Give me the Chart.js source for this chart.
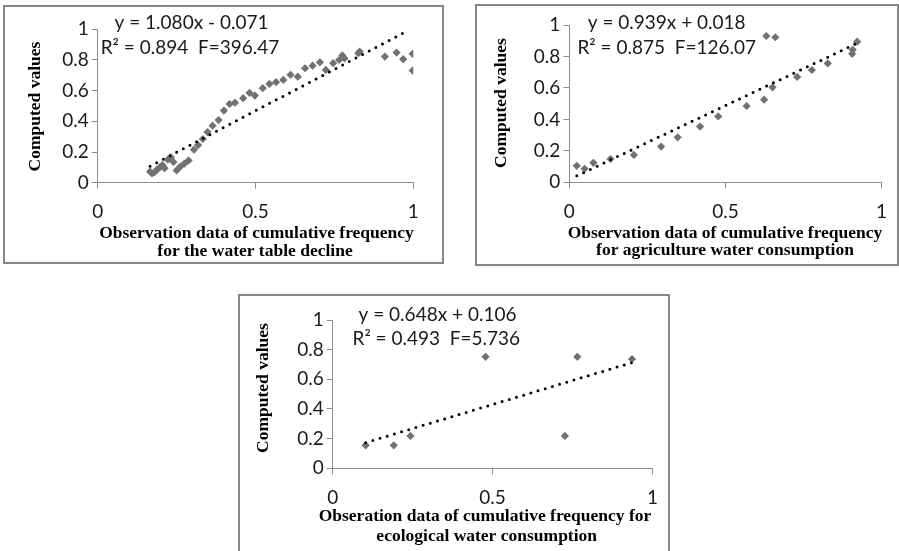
<!DOCTYPE html>
<html>
<head>
<meta charset="utf-8">
<script src="https://cdn.jsdelivr.net/npm/chart.js@4.4.1/dist/chart.umd.min.js"></script>
<style>
  html, body { margin: 0; padding: 0; background: #fff; overflow: hidden; }
  body { width: 899px; height: 551px; position: relative; }
  canvas { position: absolute; }
</style>
</head>
<body>
<canvas id="c1"></canvas>
<canvas id="c2"></canvas>
<canvas id="c3"></canvas>
<script>
// water table decline
const tableX = [0.166, 0.172, 0.180, 0.188, 0.197, 0.205, 0.212, 0.222, 0.232, 0.240,
  0.250, 0.262, 0.275, 0.288, 0.305, 0.318, 0.333, 0.348, 0.364, 0.383,
  0.400, 0.418, 0.435, 0.461, 0.481, 0.498, 0.523, 0.544, 0.565, 0.588,
  0.611, 0.634, 0.657, 0.681, 0.704, 0.723, 0.746, 0.765, 0.775, 0.782,
  0.826, 0.830, 0.910, 0.947, 0.968, 0.998, 0.998];
const tableY = [0.072, 0.060, 0.068, 0.085, 0.100, 0.115, 0.095, 0.150, 0.165, 0.135,
  0.080, 0.105, 0.125, 0.145, 0.215, 0.245, 0.285, 0.330, 0.372, 0.408,
  0.470, 0.513, 0.522, 0.551, 0.585, 0.568, 0.616, 0.644, 0.655, 0.670,
  0.703, 0.691, 0.746, 0.763, 0.785, 0.735, 0.779, 0.800, 0.830, 0.810,
  0.844, 0.855, 0.822, 0.848, 0.805, 0.840, 0.731];
const tableTrendX = [0.166, 0.984];
const tableTrendY = [0.108, 0.992];

// agriculture water consumption
const agriX = [0.024, 0.049, 0.077, 0.132, 0.207, 0.294, 0.347, 0.419, 0.477, 0.568,
  0.624, 0.631, 0.660, 0.651, 0.730, 0.777, 0.828, 0.906, 0.908, 0.922];
const agriY = [0.105, 0.086, 0.124, 0.148, 0.174, 0.227, 0.286, 0.354, 0.419, 0.485,
  0.525, 0.930, 0.922, 0.604, 0.670, 0.714, 0.756, 0.817, 0.842, 0.894];
const agriTrendX = [0.024, 0.922];
const agriTrendY = [0.041, 0.884];

// ecological water consumption
const ecoX = [0.103, 0.191, 0.243, 0.478, 0.726, 0.765, 0.936];
const ecoY = [0.155, 0.155, 0.218, 0.752, 0.218, 0.752, 0.737];
const ecoTrendX = [0.103, 0.936];
const ecoTrendY = [0.173, 0.713];

const xTicks = [0, 0.5, 1];
const yTicks = [0, 0.2, 0.4, 0.6, 0.8, 1];

const DIAMOND = '#717171';
const AXIS = '#8e8e8e';
const FRAME = '#868686';
const SANS = 'Lato';
const SERIF = '"Liberation Serif"';

function toPoints(xs, ys) {
  return xs.map((x, i) => ({ x: x, y: ys[i] }));
}

function labelPlugin(box, texts) {
  return {
    id: 'labels',
    afterDraw(chart) {
      const ctx = chart.ctx;
      ctx.save();
      ctx.strokeStyle = FRAME;
      ctx.lineWidth = 2;
      ctx.strokeRect(1, 1, box.w - 2, box.h - 2);

      ctx.fillStyle = '#1a1a1a';
      ctx.textAlign = 'center';
      ctx.textBaseline = 'middle';
      ctx.font = '19px ' + SANS;
      ctx.fillText(texts.eq, texts.eqAt[0] - box.left, texts.eqAt[1] - box.top);
      ctx.fillText(texts.r2, texts.r2At[0] - box.left, texts.r2At[1] - box.top);

      ctx.fillStyle = '#000';
      ctx.font = 'bold 17.5px ' + SERIF;
      texts.xTitle.forEach((line, i) => {
        ctx.fillText(line, texts.xTitleAt[i][0] - box.left, texts.xTitleAt[i][1] - box.top);
      });
      ctx.translate(texts.yTitleAt[0] - box.left, texts.yTitleAt[1] - box.top);
      ctx.rotate(-Math.PI / 2);
      ctx.fillText('Computed values', 0, 0);
      ctx.restore();
    }
  };
}

function makeChart(id, box, plot, xs, ys, trendX, trendY, texts) {
  const canvas = document.getElementById(id);
  canvas.width = box.w;
  canvas.height = box.h;
  canvas.style.left = box.left + 'px';
  canvas.style.top = box.top + 'px';

  const tickFont = { family: SANS, size: 19 };

  return new Chart(canvas, {
    type: 'scatter',
    data: {
      datasets: [{
        data: toPoints(trendX, trendY),
        showLine: true,
        borderColor: '#000',
        borderWidth: 3,
        borderDash: [0, 7.5],
        borderCapStyle: 'round',
        pointRadius: 0,
        fill: false,
        order: 0
      }, {
        data: toPoints(xs, ys),
        pointStyle: 'rectRot',
        pointRadius: 4.1,
        backgroundColor: DIAMOND,
        borderColor: DIAMOND,
        borderWidth: 0,
        order: 1
      }]
    },
    options: {
      responsive: false,
      animation: false,
      events: [],
      layout: {
        padding: {
          left: 0,
          bottom: 0,
          top: plot.top - box.top,
          right: box.left + box.w - plot.right
        }
      },
      plugins: {
        legend: { display: false },
        tooltip: { enabled: false }
      },
      scales: {
        x: {
          type: 'linear',
          min: xTicks[0],
          max: xTicks[xTicks.length - 1],
          afterBuildTicks: (s) => { s.ticks = xTicks.map(v => ({ value: v })); },
          afterFit: (s) => { s.height = box.top + box.h - plot.bottom; },
          ticks: { padding: 12, color: '#1a1a1a', font: tickFont, maxRotation: 0,
                   callback: (v) => String(v) },
          grid: { drawOnChartArea: false, tickLength: 6, color: AXIS },
          border: { color: AXIS, width: 1 }
        },
        y: {
          type: 'linear',
          min: yTicks[0],
          max: yTicks[yTicks.length - 1],
          afterBuildTicks: (s) => { s.ticks = yTicks.map(v => ({ value: v })); },
          afterFit: (s) => { s.width = plot.left - box.left; },
          ticks: { padding: 3, color: '#1a1a1a', font: tickFont,
                   callback: (v) => String(v) },
          grid: { drawOnChartArea: false, tickLength: 6, color: AXIS },
          border: { color: AXIS, width: 1 }
        }
      }
    },
    plugins: [labelPlugin(box, texts)]
  });
}

makeChart('c1',
  { left: 3, top: 5, w: 441, h: 259 },
  { left: 97.7, right: 413.3, top: 29.3, bottom: 182.7 },
  tableX, tableY, tableTrendX, tableTrendY,
  {
    eq: 'y = 1.080x - 0.071', eqAt: [191.5, 23],
    r2: 'R² = 0.894  F=396.47', r2At: [190, 48],
    xTitle: ['Observation data of cumulative frequency', 'for the water table decline'],
    xTitleAt: [[256.5, 233.3], [255, 251.7]],
    yTitleAt: [35, 106.5]
  });

makeChart('c2',
  { left: 475, top: 4, w: 424, h: 262 },
  { left: 569.3, right: 890, top: 25, bottom: 182.3 },
  agriX, agriY, agriTrendX, agriTrendY,
  {
    eq: 'y = 0.939x + 0.018', eqAt: [666.7, 23],
    r2: 'R² = 0.875  F=126.07', r2At: [666.7, 48.3],
    xTitle: ['Observation data of cumulative frequency', 'for agriculture water consumption'],
    xTitleAt: [[725, 233.3], [725, 250.7]],
    yTitleAt: [501.7, 103]
  });

makeChart('c3',
  { left: 238, top: 294, w: 432, h: 270 },
  { left: 332.7, right: 655, top: 320, bottom: 468.3 },
  ecoX, ecoY, ecoTrendX, ecoTrendY,
  {
    eq: 'y = 0.648x + 0.106', eqAt: [437.5, 315],
    r2: 'R² = 0.493  F=5.736', r2At: [436.3, 339],
    xTitle: ['Obseration data of cumulative frequency for', 'ecological water consumption'],
    xTitleAt: [[485, 516.7], [486.7, 536]],
    yTitleAt: [263.3, 388]
  });
</script>
</body>
</html>
